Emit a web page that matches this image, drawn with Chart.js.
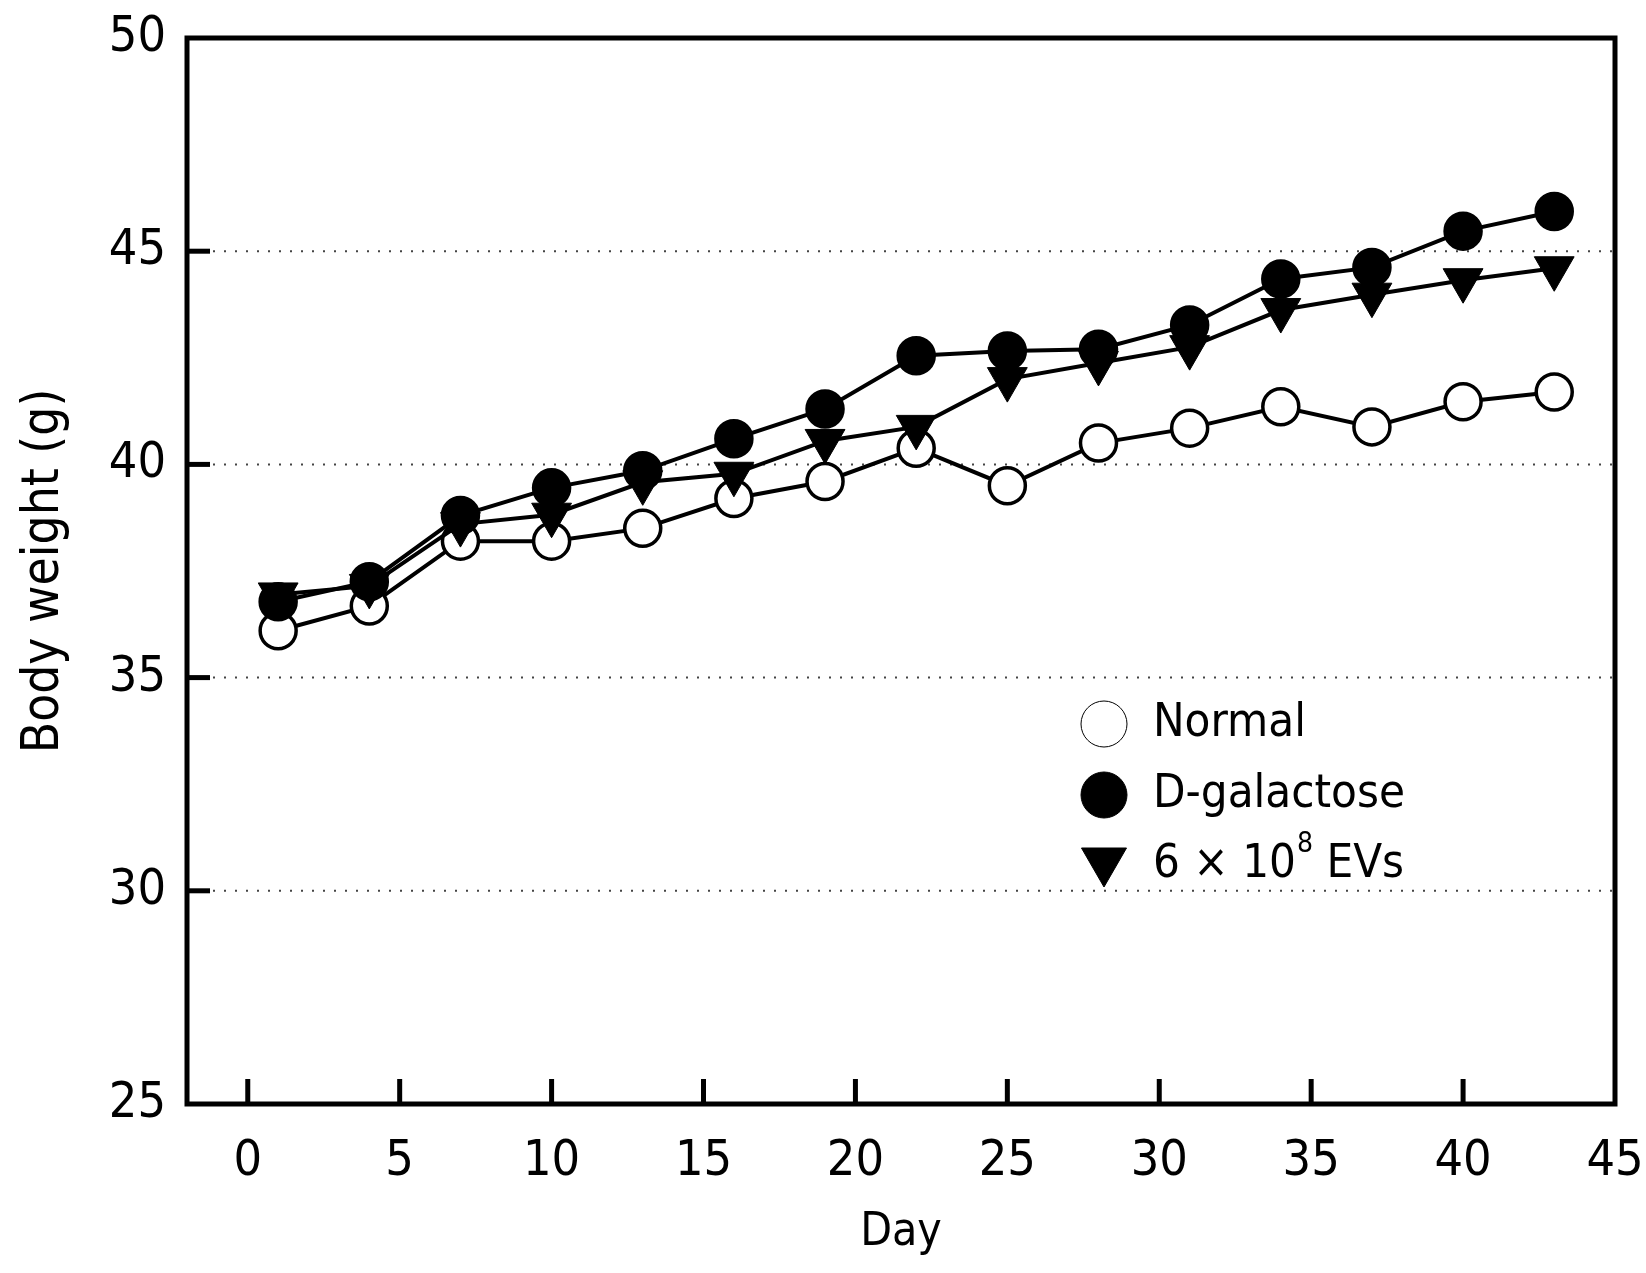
<!DOCTYPE html>
<html>
<head>
<meta charset="utf-8">
<script src="https://cdn.jsdelivr.net/npm/chart.js@4.4.1/dist/chart.umd.min.js"></script>
<style>
  html, body { margin: 0; padding: 0; background: #fff; }
  #wrap { width: 1646px; height: 1273px; }
</style>
</head>
<body>
<div id="wrap"><canvas id="weightChart" width="1646" height="1273"></canvas></div>
<script>
// Body weight per group
const days = [1, 4, 7, 10, 13, 16, 19, 22, 25, 28, 31, 34, 37, 40, 43];
const normal = [36.1, 36.68, 38.2, 38.2, 38.5, 39.2, 39.6, 40.38, 39.5, 40.5, 40.85, 41.35, 40.88, 41.47, 41.7];
const dGalactose = [36.78, 37.25, 38.8, 39.45, 39.85, 40.6, 41.3, 42.55, 42.66, 42.7, 43.27, 44.35, 44.62, 45.47, 45.93];
const evs = [36.95, 37.15, 38.6, 38.82, 39.58, 39.78, 40.55, 40.88, 42.0, 42.38, 42.75, 43.62, 43.98, 44.32, 44.6];

const xTicks = [0, 5, 10, 15, 20, 25, 30, 35, 40, 45];
const yTicks = [25, 30, 35, 40, 45, 50];

const FONT = "'DejaVu Sans Condensed', 'DejaVu Sans', sans-serif";

const toPoints = (vals) => vals.map((v, i) => ({ x: days[i], y: v }));

// frame, inward ticks and dotted grid lines
const framePlugin = {
    id: 'frame',
    beforeDatasetsDraw(chart) {
        const { ctx, chartArea: a, scales: { x, y } } = chart;
        ctx.save();
        ctx.lineCap = 'butt';

        // dotted grid
        ctx.lineWidth = 2;
        ctx.setLineDash([2, 9]);
        ctx.strokeStyle = '#444';
        yTicks.slice(1, -1).forEach(v => {
            const py = y.getPixelForValue(v);
            ctx.beginPath();
            ctx.moveTo(a.left + 26, py);
            ctx.lineTo(a.right, py);
            ctx.stroke();
        });
        ctx.setLineDash([]);
        ctx.strokeStyle = '#000';

        // ticks pointing in
        ctx.lineWidth = 5;
        yTicks.slice(1, -1).forEach(v => {
            const py = y.getPixelForValue(v);
            ctx.beginPath();
            ctx.moveTo(a.left, py);
            ctx.lineTo(a.left + 23, py);
            ctx.stroke();
        });
        xTicks.slice(0, -1).forEach(v => {
            const px = x.getPixelForValue(v);
            ctx.beginPath();
            ctx.moveTo(px, a.bottom);
            ctx.lineTo(px, a.bottom - 25);
            ctx.stroke();
        });

        // box
        ctx.strokeRect(a.left, a.top, a.right - a.left, a.bottom - a.top);
        ctx.restore();
    }
};

// legend inside the plot
const legendPlugin = {
    id: 'insideLegend',
    afterDraw(chart) {
        const { ctx } = chart;
        const items = [
            { text: 'Normal', style: 'circle', fill: '#fff', bw: 1.5, r: 23, rot: 0 },
            { text: 'D-galactose', style: 'circle', fill: '#000', bw: 1, r: 23, rot: 0 },
            { text: '6 \u00d7 10', sup: '8', after: ' EVs', style: 'triangle', fill: '#000', bw: 1, r: 26, rot: 180 }
        ];
        const mx = 1104, tx = 1153;
        const ys = [724, 795, 865];
        ctx.save();
        items.forEach((it, i) => {
            ctx.fillStyle = it.fill;
            ctx.strokeStyle = '#000';
            Chart.helpers.drawPoint(ctx, {
                pointStyle: it.style, radius: it.r, rotation: it.rot, borderWidth: it.bw
            }, mx, it.style === 'triangle' ? ys[i] - 4 : ys[i]);
            ctx.fillStyle = '#000';
            ctx.textBaseline = 'middle';
            ctx.textAlign = 'left';
            ctx.font = '47px ' + FONT;
            ctx.fillText(it.text, tx, ys[i]);
            if (it.sup) {
                let w = ctx.measureText(it.text).width;
                ctx.font = '28px ' + FONT;
                ctx.fillText(it.sup, tx + w + 1, ys[i] - 20);
                w += ctx.measureText(it.sup).width + 1;
                ctx.font = '47px ' + FONT;
                ctx.fillText(it.after, tx + w, ys[i]);
            }
        });
        ctx.restore();
    }
};

const common = {
    borderColor: '#000',
    borderWidth: 4,
    pointBorderColor: '#000',
    pointBorderWidth: 3.5,
    pointRadius: 18,
    pointHoverRadius: 18,
    tension: 0,
    fill: false
};

new Chart(document.getElementById('weightChart'), {
    type: 'line',
    data: {
        datasets: [
            { ...common, label: 'Normal', data: toPoints(normal), pointStyle: 'circle', pointBackgroundColor: '#fff', order: 3 },
            { ...common, label: 'D-galactose', data: toPoints(dGalactose), pointStyle: 'circle', pointBackgroundColor: '#000', order: 2 },
            { ...common, label: '6 \u00d7 10^8 EVs', data: toPoints(evs), pointStyle: 'triangle', pointRotation: 180,
              pointRadius: 23, pointHoverRadius: 23, pointBorderWidth: 1, pointBackgroundColor: '#000', order: 1 }
        ]
    },
    options: {
        responsive: false,
        animation: false,
        devicePixelRatio: 1,
        layout: { padding: { left: 0, right: 31, top: 38, bottom: 0 } },
        plugins: { legend: { display: false }, tooltip: { enabled: false } },
        scales: {
            x: {
                type: 'linear',
                min: -2,
                max: 45,
                afterBuildTicks: (s) => { s.ticks = xTicks.map(v => ({ value: v })); },
                afterFit: (s) => { s.height = 169; s.paddingLeft = 0; s.paddingRight = 0; },
                grid: { display: false },
                border: { display: false },
                ticks: { color: '#000', font: { size: 50, family: FONT }, padding: 20, maxRotation: 0, autoSkip: false },
                title: { display: true, text: 'Day', color: '#000', font: { size: 46, family: FONT }, padding: { top: 0, bottom: 12 } }
            },
            y: {
                min: 25,
                max: 50,
                afterBuildTicks: (s) => { s.ticks = yTicks.map(v => ({ value: v })); },
                afterFit: (s) => { s.width = 187; s.paddingTop = 0; s.paddingBottom = 0; },
                grid: { display: false },
                border: { display: false },
                ticks: { color: '#000', font: { size: 50, family: FONT }, padding: 13 },
                title: { display: true, text: 'Body weight (g)', color: '#000', font: { size: 51, family: FONT }, padding: { top: 14, bottom: 0 } }
            }
        }
    },
    plugins: [framePlugin, legendPlugin]
});
</script>
</body>
</html>
